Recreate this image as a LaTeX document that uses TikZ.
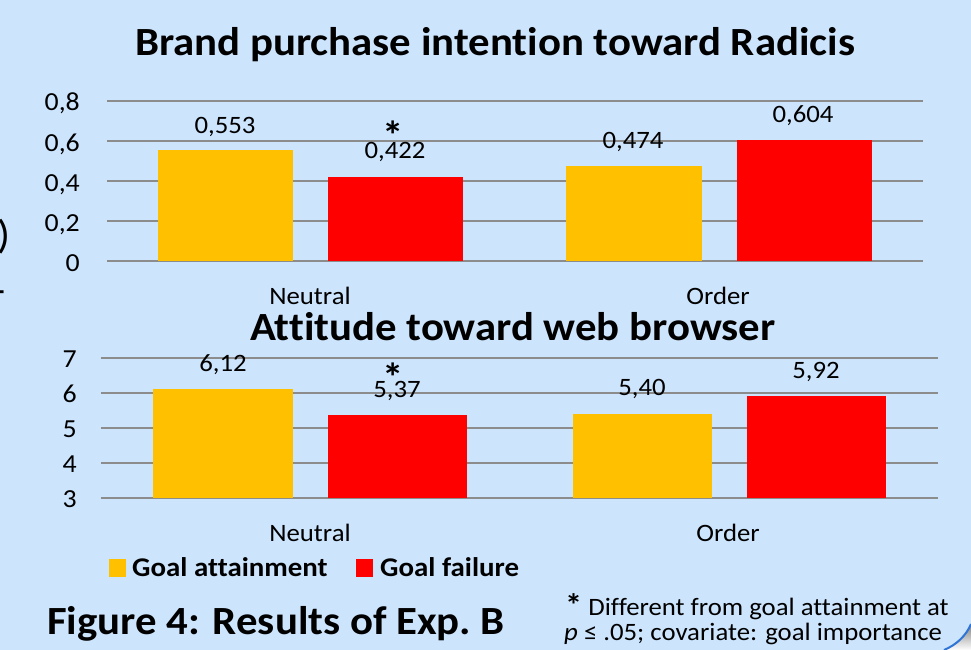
\documentclass[tikz,border=0pt]{standalone}
\usepackage{fontspec}
\setmainfont{Carlito}[Ligatures=NoCommon, FakeStretch=1.07]
\definecolor{bg}{RGB}{204,228,252}
\definecolor{gridc}{RGB}{140,140,140}
\definecolor{gold}{RGB}{255,192,0}
\definecolor{bred}{RGB}{255,0,0}
\definecolor{rim}{RGB}{46,117,214}
\definecolor{shade}{RGB}{185,185,190}
\begin{document}
\begin{tikzpicture}[x=1pt,y=-1pt,
  gridline/.style={draw=gridc, line width=2pt},
  tick/.style={anchor=base east, inner sep=0pt, font=\fontsize{26}{30}\selectfont},
  val/.style={anchor=base, inner sep=0pt, font=\fontsize{25}{30}\selectfont},
  cat/.style={anchor=base, inner sep=0pt, font=\fontsize{25}{30}\selectfont},
  ttl/.style={anchor=base west, inner sep=0pt, font=\bfseries\fontsize{40}{48}\selectfont},
  star/.style={anchor=base, inner sep=0pt, font=\bfseries\fontsize{40}{40}\selectfont},
  legtxt/.style={anchor=base west, inner sep=0pt, font=\bfseries\fontsize{27}{30}\selectfont},
  note/.style={anchor=base west, inner sep=0pt, font=\fontsize{25}{28}\selectfont},
  ybar/.style={fill=gold},
  rbar/.style={fill=bred},
]
\fill[bg] (0,0) rectangle (971,650);
\useasboundingbox (0,0) rectangle (971,650);

% corner of the slide frame
\fill[shade] (944,650) .. controls (956,645) and (966,636) .. (971,624) -- (971,650) -- cycle;
\draw[rim, line width=2pt] (944,650) .. controls (956,645) and (966,636) .. (971,624);

% cut-off text at the left edge
\node[anchor=base west, inner sep=0pt, font=\fontsize{40}{44}\selectfont] (paren) at (-3,248) {)};
\node[anchor=base west, inner sep=0pt, font=\fontsize{40}{44}\selectfont] (dash) at (-8,303) {-};

% ---------- top chart ----------
\node[ttl] (t1) at (135,56) {Brand purchase intention toward Radicis};
\foreach \y in {101,141,181,221,261} \draw[gridline] (107,\y) -- (923,\y);
\fill[ybar] (158,261) rectangle (293,150.4);
\fill[rbar] (328,261) rectangle (463,176.6);
\fill[ybar] (566,261) rectangle (702,166.2);
\fill[rbar] (737,261) rectangle (872,140.2);
\node[tick] (a8) at (80,111) {0,8};
\node[tick] (a6) at (80,151) {0,6};
\node[tick] (a4) at (80,191) {0,4};
\node[tick] (a2) at (80,231) {0,2};
\node[tick] (a0) at (80,271) {0};
\node[val] (v1) at (225,133) {0,553};
\node[val] (v2) at (395,158) {0,422};
\node[star] (s1) at (393,149) {*};
\node[val] (v3) at (633,148) {0,474};
\node[val] (v4) at (803,122) {0,604};
\node[cat] (c1) at (310,304) {Neutral};
\node[cat] (c2) at (718,304) {Order};

% ---------- bottom chart ----------
\node[ttl] (t2) at (250,340) {Attitude toward web browser};
\foreach \y in {358,393,428,463,498} \draw[gridline] (101,\y) -- (938,\y);
\fill[ybar] (153,498) rectangle (293,388.8);
\fill[rbar] (328,498) rectangle (467,415.05);
\fill[ybar] (573,498) rectangle (712,414);
\fill[rbar] (747,498) rectangle (886,395.8);
\node[tick] (b7) at (77,367) {7};
\node[tick] (b6) at (77,402) {6};
\node[tick] (b5) at (77,437) {5};
\node[tick] (b4) at (77,472) {4};
\node[tick] (b3) at (77,507) {3};
\node[val] (w1) at (223,371) {6,12};
\node[val] (w2) at (397,397) {5,37};
\node[star] (s2) at (393,391) {*};
\node[val] (w3) at (642,395) {5,40};
\node[val] (w4) at (816,378) {5,92};
\node[cat] (d1) at (310,541) {Neutral};
\node[cat] (d2) at (728,541) {Order};

% ---------- legend ----------
\fill[gold] (109,559) rectangle (126,577);
\node[legtxt] (l1) at (132,576) {Goal attainment};
\fill[bred] (356,559) rectangle (373,577);
\node[legtxt] (l2) at (380,576) {Goal failure};

% ---------- caption and note ----------
\node[anchor=base west, inner sep=0pt, font=\bfseries\fontsize{40}{48}\selectfont] (cap) at (47,634) {Figure 4: Results of Exp.~B};
\node[note] (n1) at (565,615) {\raisebox{-1pt}{\bfseries\fontsize{32}{32}\selectfont *} Different from goal attainment at};
\node[note] (n2) at (564,640) {\textit{p} ≤ .05; covariate: goal importance};
\end{tikzpicture}
\end{document}
